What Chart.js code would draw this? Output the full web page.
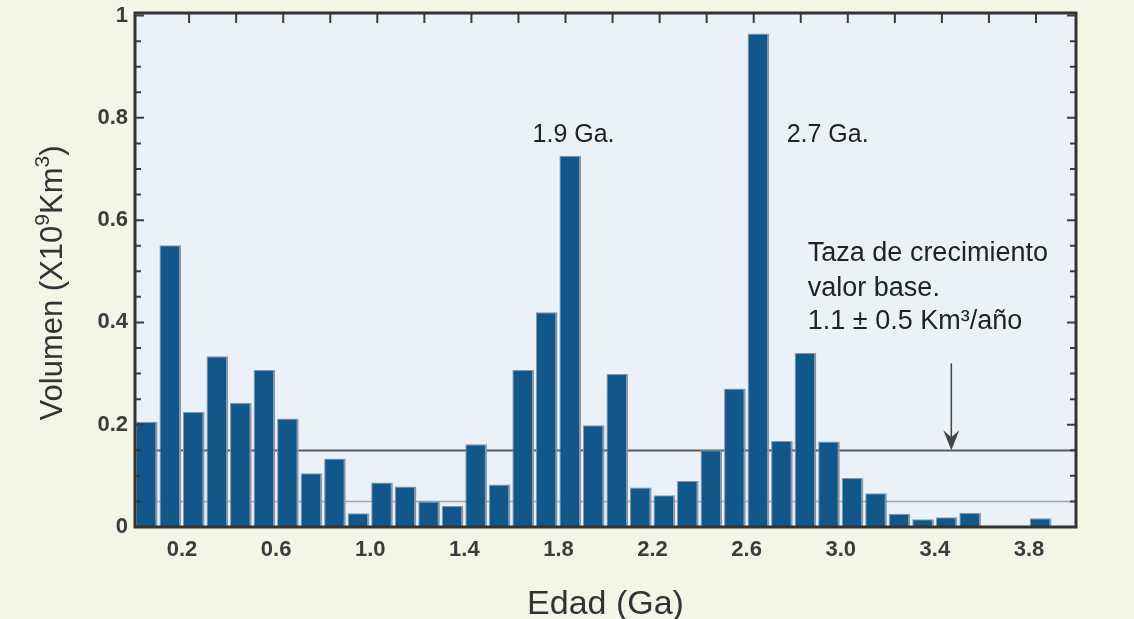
<!DOCTYPE html>
<html>
<head>
<meta charset="utf-8">
<script src="https://cdn.jsdelivr.net/npm/chart.js@4.4.1/dist/chart.umd.min.js"></script>
<style>
  html, body { margin: 0; padding: 0; background: #f3f5e5; }
</style>
</head>
<body>
<canvas id="myChart" width="1134" height="619"></canvas>
<script>
// 0.1 Ga bins (start age of each bin)
var bins = ['0.0','0.1','0.2','0.3','0.4','0.5','0.6','0.7','0.8','0.9',
            '1.0','1.1','1.2','1.3','1.4','1.5','1.6','1.7','1.8','1.9',
            '2.0','2.1','2.2','2.3','2.4','2.5','2.6','2.7','2.8','2.9',
            '3.0','3.1','3.2','3.3','3.4','3.5','3.6','3.7','3.8','3.9'];
var volumes = [0.206, 0.551, 0.225, 0.334, 0.243, 0.307, 0.212, 0.105, 0.134, 0.027,
               0.087, 0.079, 0.050, 0.041, 0.162, 0.083, 0.307, 0.420, 0.726, 0.199,
               0.299, 0.077, 0.062, 0.090, 0.150, 0.271, 0.965, 0.168, 0.340, 0.167,
               0.096, 0.066, 0.026, 0.015, 0.019, 0.028, 0, 0, 0.017, 0];

var ageTicks = [0.2, 0.6, 1.0, 1.4, 1.8, 2.2, 2.6, 3.0, 3.4, 3.8];
var volTicks = [0, 0.2, 0.4, 0.6, 0.8, 1];
var minorTicks = [0.05, 0.1, 0.15, 0.25, 0.3, 0.35, 0.45, 0.5, 0.55,
                  0.65, 0.7, 0.75, 0.85, 0.9, 0.95];
var topTicks = [0.23, 0.43, 0.63, 0.83, 1.03, 1.23, 1.43, 1.63, 1.83, 2.03,
                2.23, 2.43, 2.63, 2.83, 3.03, 3.23, 3.43, 3.63, 3.83];
var baseLines = [0.15, 0.05];

var peakNotes = [
  { text: '1.9 Ga.', x: 1.69, y: 0.767 },
  { text: '2.7 Ga.', x: 2.77, y: 0.767 }
];
var rateNotes = [
  { text: 'Taza de crecimiento', x: 2.86, y: 0.535 },
  { text: 'valor base.', x: 2.86, y: 0.467 },
  { text: '1.1 \u00B1 0.5 Km\u00B3/a\u00F1o', x: 2.86, y: 0.402 }
];
var arrow = { x: 3.47, from: 0.32, to: 0.15 };

var FONT = '"Liberation Sans", Arial, Helvetica, sans-serif';

var decor = {
  id: 'decor',
  beforeDraw: function (chart) {
    var ctx = chart.ctx, a = chart.chartArea;
    ctx.save();
    ctx.fillStyle = '#f3f5e5';
    ctx.fillRect(0, 0, chart.width, chart.height);
    ctx.fillStyle = '#eaf1f9';
    ctx.fillRect(a.left, a.top, a.right - a.left, a.bottom - a.top);
    ctx.restore();
  },
  beforeDatasetsDraw: function (chart) {
    var ctx = chart.ctx, a = chart.chartArea, y = chart.scales.y;
    ctx.save();
    baseLines.forEach(function (v, i) {
      var py = Math.round(y.getPixelForValue(v)) + 0.5;
      ctx.strokeStyle = i === 0 ? '#555a60' : '#9ea3aa';
      ctx.lineWidth = i === 0 ? 2 : 1.5;
      ctx.beginPath();
      ctx.moveTo(a.left, py);
      ctx.lineTo(a.right, py);
      ctx.stroke();
    });
    ctx.restore();
  },
  afterDraw: function (chart) {
    var ctx = chart.ctx, a = chart.chartArea;
    var y = chart.scales.y, xs = chart.scales.xAge;
    ctx.save();

    // inner ticks
    ctx.strokeStyle = '#3c3c3c';
    ctx.lineWidth = 2;
    ctx.beginPath();
    volTicks.concat(minorTicks).forEach(function (v) {
      var py = y.getPixelForValue(v);
      var len = volTicks.indexOf(v) >= 0 ? 9 : 6;
      ctx.moveTo(a.left, py); ctx.lineTo(a.left + len, py);
      ctx.moveTo(a.right, py); ctx.lineTo(a.right - len, py);
    });
    topTicks.forEach(function (v) {
      var px = xs.getPixelForValue(v);
      ctx.moveTo(px, a.top); ctx.lineTo(px, a.top + 10);
    });
    ctx.stroke();

    // frame
    ctx.strokeStyle = '#333';
    ctx.lineWidth = 3;
    ctx.strokeRect(a.left, a.top, a.right - a.left, a.bottom - a.top);

    // arrow
    var ax = xs.getPixelForValue(arrow.x);
    var y1 = y.getPixelForValue(arrow.from), y2 = y.getPixelForValue(arrow.to);
    ctx.strokeStyle = '#444';
    ctx.lineWidth = 1.5;
    ctx.beginPath();
    ctx.moveTo(ax, y1); ctx.lineTo(ax, y2 - 4);
    ctx.stroke();
    ctx.fillStyle = '#444';
    ctx.beginPath();
    ctx.moveTo(ax, y2);
    ctx.lineTo(ax - 8, y2 - 20);
    ctx.lineTo(ax, y2 - 13);
    ctx.lineTo(ax + 8, y2 - 20);
    ctx.closePath();
    ctx.fill();

    // notes
    ctx.fillStyle = '#222';
    ctx.textBaseline = 'middle';
    ctx.textAlign = 'left';
    ctx.font = '25px ' + FONT;
    peakNotes.forEach(function (n) {
      ctx.fillText(n.text, xs.getPixelForValue(n.x), y.getPixelForValue(n.y));
    });
    ctx.font = '27px ' + FONT;
    rateNotes.forEach(function (n) {
      ctx.fillText(n.text, xs.getPixelForValue(n.x), y.getPixelForValue(n.y));
    });

    // y title with superscripts
    var parts = [['Volumen (X10', false], ['9', true], ['Km', false], ['3', true], [')', false]];
    var big = '31px ' + FONT, small = '21px ' + FONT;
    var total = 0;
    parts.forEach(function (p) { ctx.font = p[1] ? small : big; total += ctx.measureText(p[0]).width; });
    ctx.translate(50, 283);
    ctx.rotate(-Math.PI / 2);
    ctx.fillStyle = '#333';
    ctx.textBaseline = 'alphabetic';
    var cx = -total / 2;
    parts.forEach(function (p) {
      ctx.font = p[1] ? small : big;
      ctx.fillText(p[0], cx, p[1] ? -1 : 12);
      cx += ctx.measureText(p[0]).width;
    });
    ctx.restore();
  }
};

new Chart(document.getElementById('myChart'), {
  type: 'bar',
  data: {
    labels: bins,
    datasets: [{
      data: volumes,
      backgroundColor: '#11578a',
      borderColor: '#8c96a6',
      borderWidth: { top: 1, left: 1, right: 2, bottom: 0 },
      borderSkipped: 'bottom',
      barPercentage: 0.92,
      categoryPercentage: 1
    }]
  },
  options: {
    responsive: false,
    devicePixelRatio: 1,
    animation: false,
    layout: { padding: { top: 13, right: 58, left: 0, bottom: 0 } },
    plugins: { legend: { display: false }, tooltip: { enabled: false } },
    scales: {
      x: { type: 'category', display: false },
      xAge: {
        type: 'linear',
        position: 'bottom',
        offset: false,
        min: 0,
        max: 4,
        afterBuildTicks: function (s) { s.ticks = ageTicks.map(function (v) { return { value: v }; }); },
        afterFit: function (s) { s.height = 92; s.paddingLeft = 0; s.paddingRight = 0; },
        grid: { display: false, drawTicks: false },
        border: { display: false },
        ticks: {
          color: '#3c3c3c',
          font: { family: FONT, size: 22, weight: 'bold' },
          padding: 10,
          autoSkip: false,
          maxRotation: 0,
          callback: function (v) { return v.toFixed(1); }
        },
        title: {
          display: true,
          text: 'Edad (Ga)',
          color: '#333',
          font: { family: FONT, size: 34 },
          padding: { top: 0, bottom: -6 }
        }
      },
      y: {
        min: 0,
        max: 1.005,
        afterBuildTicks: function (s) { s.ticks = volTicks.map(function (v) { return { value: v }; }); },
        afterFit: function (s) { s.width = 135; s.paddingTop = 0; s.paddingBottom = 0; },
        grid: { display: false, drawTicks: false },
        border: { display: false },
        ticks: {
          color: '#3c3c3c',
          font: { family: FONT, size: 22, weight: 'bold' },
          padding: 7,
          callback: function (v) { return v === 0 ? '0' : v === 1 ? '1' : v.toFixed(1); }
        }
      }
    }
  },
  plugins: [decor]
});
</script>
</body>
</html>
